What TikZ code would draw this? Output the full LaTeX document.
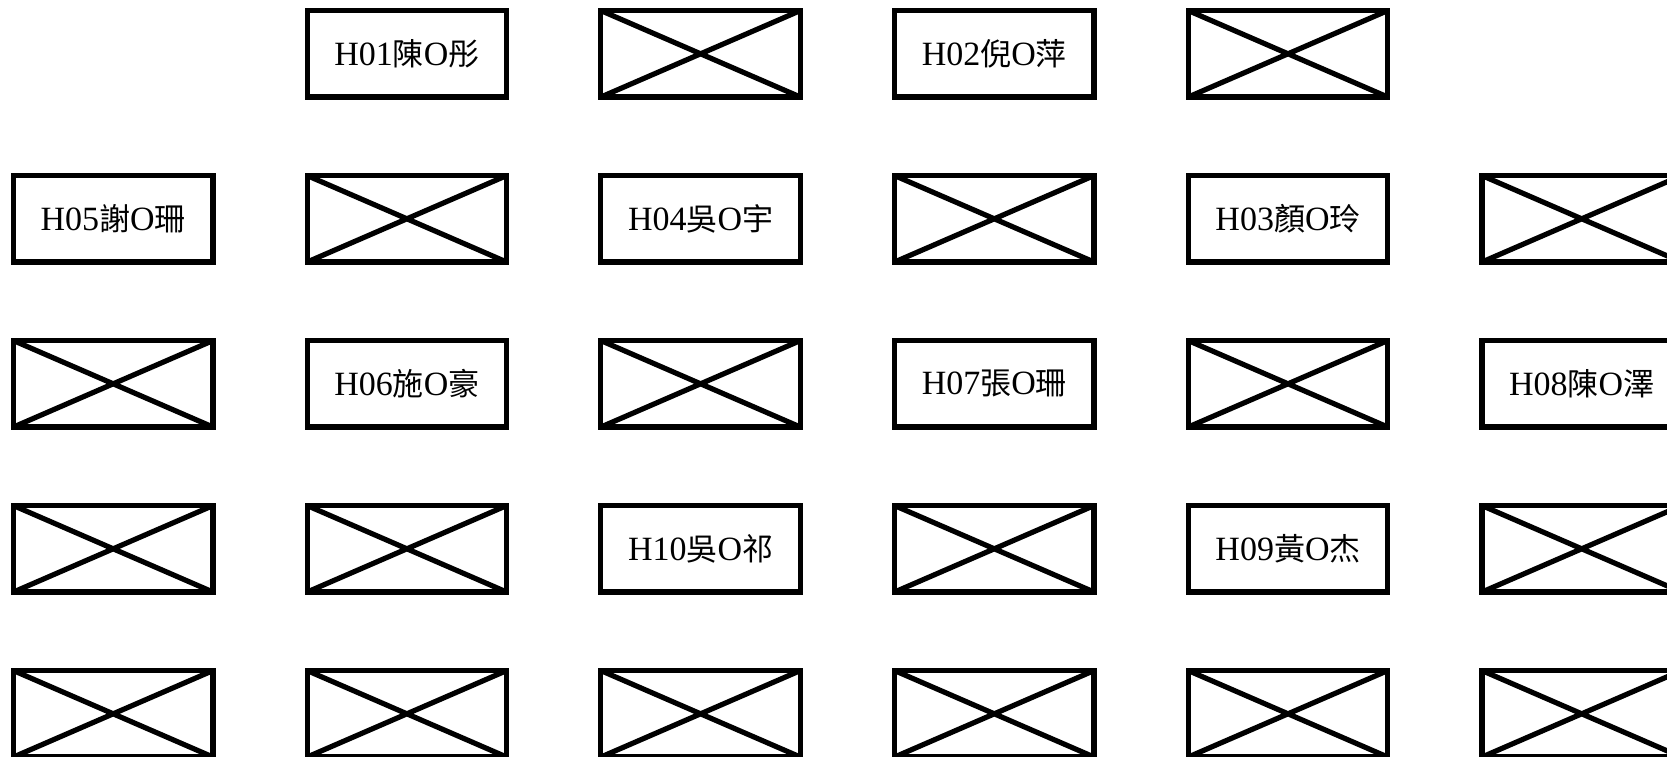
\documentclass[tikz,border=0pt]{standalone}
\usepackage{fontspec}
\setmainfont{Liberation Serif}
\newfontfamily\cjk{Noto Sans CJK TC}
\newcommand\pname[3]{{\fontsize{34}{40}\selectfont #1{\cjk\fontsize{31}{40}\selectfont #2}O{\cjk\fontsize{31}{40}\selectfont #3}}}
\tikzset{
  seat/.style={draw, line width=5.2pt, minimum width=199.5pt, minimum height=86.5pt,
    inner sep=0pt, outer sep=0pt, anchor=center},
  crossline/.style={line width=5.2pt}
}
\begin{document}
\begin{tikzpicture}[x=1pt,y=-1pt]
\useasboundingbox (0,0) rectangle (1667,756);
\clip (0,0) rectangle (1667,756);
\def\cx#1{113.2+293.7*#1}
\def\cy#1{53.8+165*#1}
% labelled seats
\node[seat] (h01) at ({\cx{1}},{\cy{0}}) {\pname{H01}{陳}{彤}};
\node[seat] (h02) at ({\cx{3}},{\cy{0}}) {\pname{H02}{倪}{萍}};
\node[seat] (h05) at ({\cx{0}},{\cy{1}}) {\pname{H05}{謝}{珊}};
\node[seat] (h04) at ({\cx{2}},{\cy{1}}) {\pname{H04}{吳}{宇}};
\node[seat] (h03) at ({\cx{4}},{\cy{1}}) {\pname{H03}{顏}{玲}};
\node[seat] (h06) at ({\cx{1}},{\cy{2}}) {\pname{H06}{施}{豪}};
\node[seat] (h07) at ({\cx{3}},{\cy{2}}) {\pname{H07}{張}{珊}};
\node[seat] (h08) at ({\cx{5}},{\cy{2}}) {\pname{H08}{陳}{澤}};
\node[seat] (h10) at ({\cx{2}},{\cy{3}}) {\pname{H10}{吳}{祁}};
\node[seat] (h09) at ({\cx{4}},{\cy{3}}) {\pname{H09}{黃}{杰}};
% empty (crossed) seats
\foreach \i/\j in {2/0,4/0, 1/1,3/1,5/1, 0/2,2/2,4/2, 0/3,1/3,3/3,5/3,
                   0/4,1/4,2/4,3/4,4/4,5/4}{
  \node[seat] (x\i\j) at ({\cx{\i}},{\cy{\j}}) {};
  \draw[crossline] (x\i\j.north west) -- (x\i\j.south east)
                   (x\i\j.south west) -- (x\i\j.north east);
}
\end{tikzpicture}
\end{document}
